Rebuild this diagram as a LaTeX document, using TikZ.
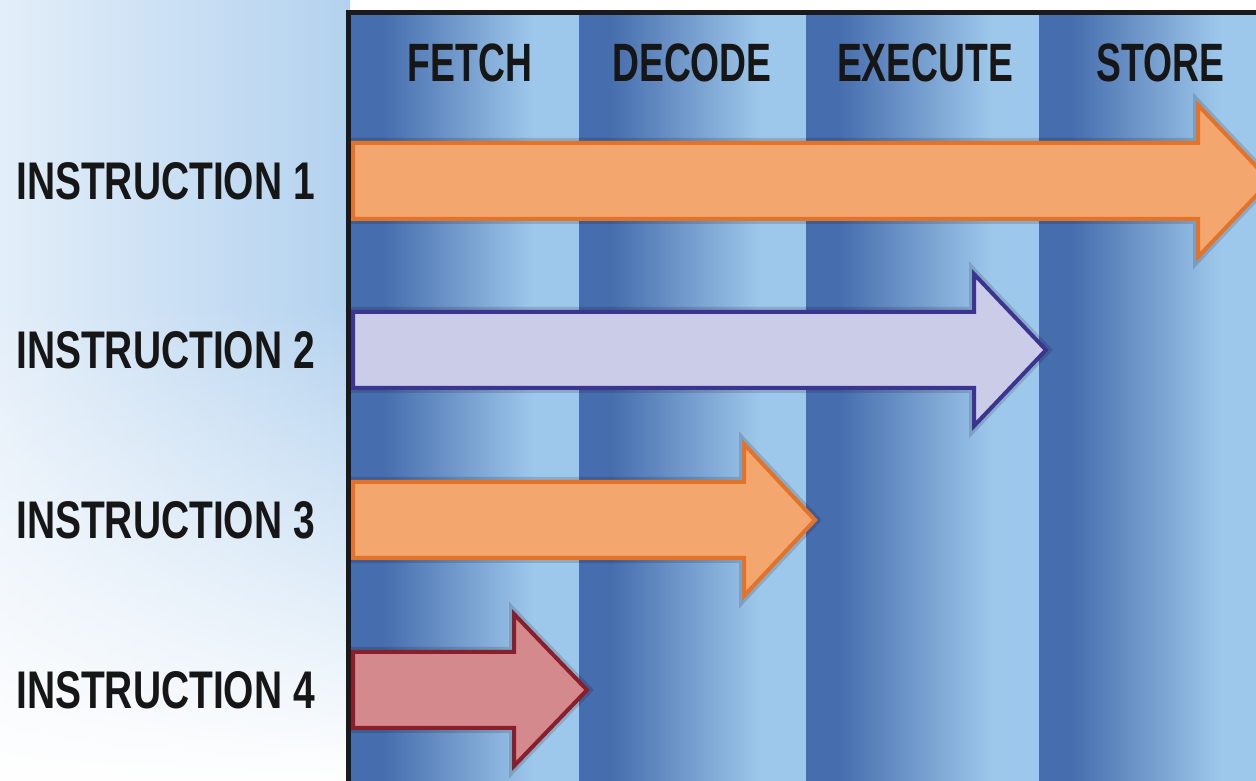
\documentclass[tikz,border=0pt]{standalone}
\usepackage{fontspec}
\setmainfont{Liberation Sans}
\usetikzlibrary{fadings}
\definecolor{bdark}{HTML}{466DAD}
\definecolor{blight}{HTML}{9EC8EB}
\definecolor{bgL}{HTML}{E3EEF9}
\definecolor{bgR}{HTML}{B3D2EF}
\definecolor{orfill}{HTML}{F4A66F}
\definecolor{ordraw}{HTML}{E4732A}
\definecolor{lvfill}{HTML}{CBCCE8}
\definecolor{lvdraw}{HTML}{3B3490}
\definecolor{pkfill}{HTML}{D4898D}
\definecolor{pkdraw}{HTML}{8A1F2C}
\definecolor{framec}{HTML}{1A1A1A}
\definecolor{txt}{HTML}{161616}
\pgfdeclarehorizontalshading{band}{100bp}{color(0bp)=(bdark); color(32bp)=(bdark); color(65bp)=(blight); color(100bp)=(blight)}
\tikzfading[name=bfade, top color=transparent!100, bottom color=transparent!0]
\newcommand{\pipearrow}[4]{%
  \draw[halo] (353,#2+38) -- (#3,#2+38) -- (#3,#2+76) -- (#4,#2) -- (#3,#2-76) -- (#3,#2-38) -- (353,#2-38) -- cycle;
  \draw[#1] (353,#2+38) -- (#3,#2+38) -- (#3,#2+76) -- (#4,#2) -- (#3,#2-76) -- (#3,#2-38) -- (353,#2-38) -- cycle;}
\tikzset{
  halo/.style={draw=black, draw opacity=0.14, line width=10, line join=miter},
  orarrow/.style={fill=orfill, draw=ordraw, line width=4, line join=miter},
  lvarrow/.style={fill=lvfill, draw=lvdraw, line width=4, line join=miter},
  pkarrow/.style={fill=pkfill, draw=pkdraw, line width=4, line join=miter},
  lab/.style={font=\fontsize{53}{53}\selectfont\bfseries, inner sep=0, text=txt, anchor=west},
  hd/.style={font=\fontsize{54}{54}\selectfont\bfseries, inner sep=0, text=txt, anchor=center},
  bandbox/.style={shading=band}
}
\begin{document}
\begin{tikzpicture}[x=1pt,y=1pt]
\useasboundingbox (0,0) rectangle (1256,781);
\clip (0,0) rectangle (1256,781);
% background outside the frame
\shade[left color=bgL, right color=bgR] (0,0) rectangle (350,781);
\fill[white, path fading=bfade] (0,0) rectangle (350,480);
% column bands
\shade[bandbox] (351,0) rectangle (579,768);
\shade[bandbox] (579,0) rectangle (806,768);
\shade[bandbox] (806,0) rectangle (1039,768);
\shade[bandbox] (1039,0) rectangle (1266,768);
% headers
\node[hd] (fetch) at (470,718) {\scalebox{0.69}[1]{FETCH}};
\node[hd] (decode) at (692,718) {\scalebox{0.69}[1]{DECODE}};
\node[hd] (execute) at (925,718) {\scalebox{0.69}[1]{EXECUTE}};
\node[hd] (store) at (1160,718) {\scalebox{0.69}[1]{STORE}};
% arrows
\pipearrow{orarrow}{600}{1198}{1270}
\pipearrow{lvarrow}{431}{974}{1046}
\pipearrow{orarrow}{261}{744}{815}
\pipearrow{pkarrow}{91}{514}{587}
% frame
\draw[framec, line width=5] (348.5,-20) -- (348.5,768.5) -- (1300,768.5);
% row labels
\node[lab] (i1) at (16,600) {\scalebox{0.735}[1]{INSTRUCTION 1}};
\node[lab] (i2) at (16,431) {\scalebox{0.735}[1]{INSTRUCTION 2}};
\node[lab] (i3) at (16,261) {\scalebox{0.735}[1]{INSTRUCTION 3}};
\node[lab] (i4) at (16,91) {\scalebox{0.735}[1]{INSTRUCTION 4}};
\end{tikzpicture}
\end{document}
